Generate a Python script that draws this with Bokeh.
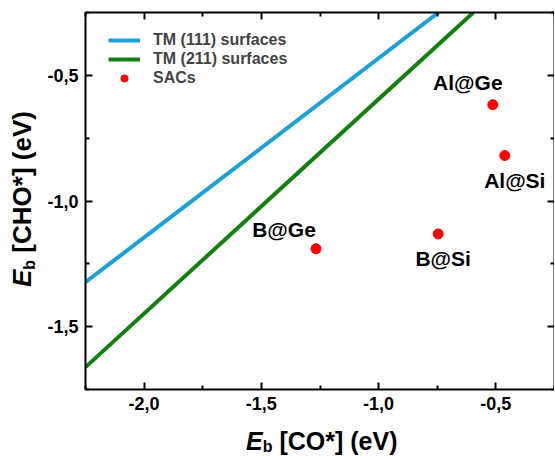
import math
from bokeh.plotting import figure
from bokeh.layouts import column, row
from bokeh.models import (Range1d, LinearAxis, FixedTicker, Legend, LegendItem,
                          ColumnDataSource, CustomJSTickFormatter, Div)
from bokeh.embed import file_html
from bokeh.resources import INLINE
from bokeh.core.properties import value

# ---------------- data ----------------
tm111_x = [-2.25, -0.745]
tm111_y = [-1.323, -0.25]
tm211_x = [-2.25, -0.596]
tm211_y = [-1.661, -0.25]

sac_names = ["B@Ge", "B@Si", "Al@Ge", "Al@Si"]
sac_co = [-1.267, -0.746, -0.513, -0.462]
sac_cho = [-1.190, -1.131, -0.617, -0.819]

x_ticks = [-2.0, -1.5, -1.0, -0.5]
x_tick_labels = ["-2,0", "-1,5", "-1,0", "-0,5"]
x_minor = [-2.25, -1.75, -1.25, -0.75, -0.25]
y_ticks = [-1.5, -1.0, -0.5]
y_tick_labels = ["-1,5", "-1,0", "-0,5"]
y_minor = [-1.75, -1.25, -0.75, -0.25]

x_title = ("E", "b", "[CO*] (eV)")
y_title = ("E", "b", "[CHO*] (eV)")

# label offsets in screen pixels (style)
label_dx = [-32, 5, -25, 10]
label_dy = [-19, 25, -22, 25]

FONT = "Liberation Sans"
BLUE = "#1ba1d6"
GREEN = "#12800f"
RED = "#ff0000"

P_W, P_H = 516, 421
FY_W = 38
FX_H = 35

p = figure(width=P_W, height=P_H, x_range=Range1d(-2.25, -0.25), y_range=Range1d(-1.75, -0.25),
           output_backend="svg", toolbar_location=None,
           x_axis_location=None, y_axis_location=None,
           min_border_left=47, min_border_right=0, min_border_top=12, min_border_bottom=32)
p.outline_line_color = None
p.grid.visible = False


def make_axis(ticks, minor, labels, show):
    ax = LinearAxis(ticker=FixedTicker(ticks=ticks, minor_ticks=minor))
    ax.axis_line_width = 2
    ax.axis_line_color = "black"
    ax.major_tick_in = 7
    ax.major_tick_out = 0
    ax.minor_tick_in = 4
    ax.minor_tick_out = 0
    ax.major_tick_line_width = 2
    ax.minor_tick_line_width = 2
    if show:
        ax.major_label_overrides = dict(zip(ticks, labels))
        ax.major_label_text_font = FONT
        ax.major_label_text_font_style = "bold"
        ax.major_label_text_font_size = "18px"
        ax.major_label_text_color = "black"
        ax.major_label_standoff = 7
    else:
        ax.formatter = CustomJSTickFormatter(code="return ''")
        ax.major_label_text_font_size = "0px"
        ax.major_label_standoff = 0
    return ax


p.add_layout(make_axis(x_ticks, x_minor, x_tick_labels, True), "below")
p.add_layout(make_axis(y_ticks, y_minor, y_tick_labels, True), "left")
p.add_layout(make_axis(x_ticks, x_minor, x_tick_labels, False), "above")
p.add_layout(make_axis(y_ticks, y_minor, y_tick_labels, False), "right")

r111 = p.line(tm111_x, tm111_y, line_color=BLUE, line_width=4)
r211 = p.line(tm211_x, tm211_y, line_color=GREEN, line_width=4)

src = ColumnDataSource(dict(x=sac_co, y=sac_cho, name=sac_names, dx=label_dx, dy=label_dy))
rsac = p.scatter("x", "y", source=src, size=10, fill_color=RED, line_color=RED)
p.text("x", "y", text="name", source=src, x_offset="dx", y_offset="dy",
       text_font=value(FONT), text_font_style="bold", text_font_size="21px",
       text_align="center", text_baseline="middle", text_color="black")

legend = Legend(items=[LegendItem(label="TM (111) surfaces", renderers=[r111]),
                       LegendItem(label="TM (211) surfaces", renderers=[r211]),
                       LegendItem(label="SACs", renderers=[rsac])],
                location=(23, 302), border_line_alpha=0, background_fill_alpha=0,
                label_text_font=FONT, label_text_font_style="bold", label_text_font_size="16px",
                glyph_width=32, glyph_height=18, label_height=18, label_standoff=13,
                spacing=1, padding=0, margin=0)
p.add_layout(legend)


# ---- axis titles (italic E, subscript b) as HTML ----
def title_html(parts, size, left, top, rotate, drop):
    e, sub, rest = parts
    tr = "transform-origin:0 0;transform:rotate(-90deg);" if rotate else ""
    return (
        f'<div style="position:relative;width:100%;height:100%;">'
        f'<span style="position:absolute;left:{left}px;top:{top}px;{tr}white-space:nowrap;'
        f'font-family:\'{FONT}\';font-weight:bold;font-size:{size}px;line-height:1;color:black;">'
        f'<i>{e}</i><span style="font-size:16px;vertical-align:-{drop}px;line-height:0;">{sub}</span>'
        f' {rest}</span></div>'
    )


ydiv = Div(text=title_html(y_title, 26, 9, 275, True, 4), width=FY_W, height=P_H, margin=0)
xdiv = Div(text=title_html(x_title, 25, 246, -4, False, 2), width=FY_W + P_W, height=FX_H, margin=0)

layout = column(row(ydiv, p, spacing=0), xdiv, spacing=0)

open("out.html", "w").write(file_html(layout, INLINE))
